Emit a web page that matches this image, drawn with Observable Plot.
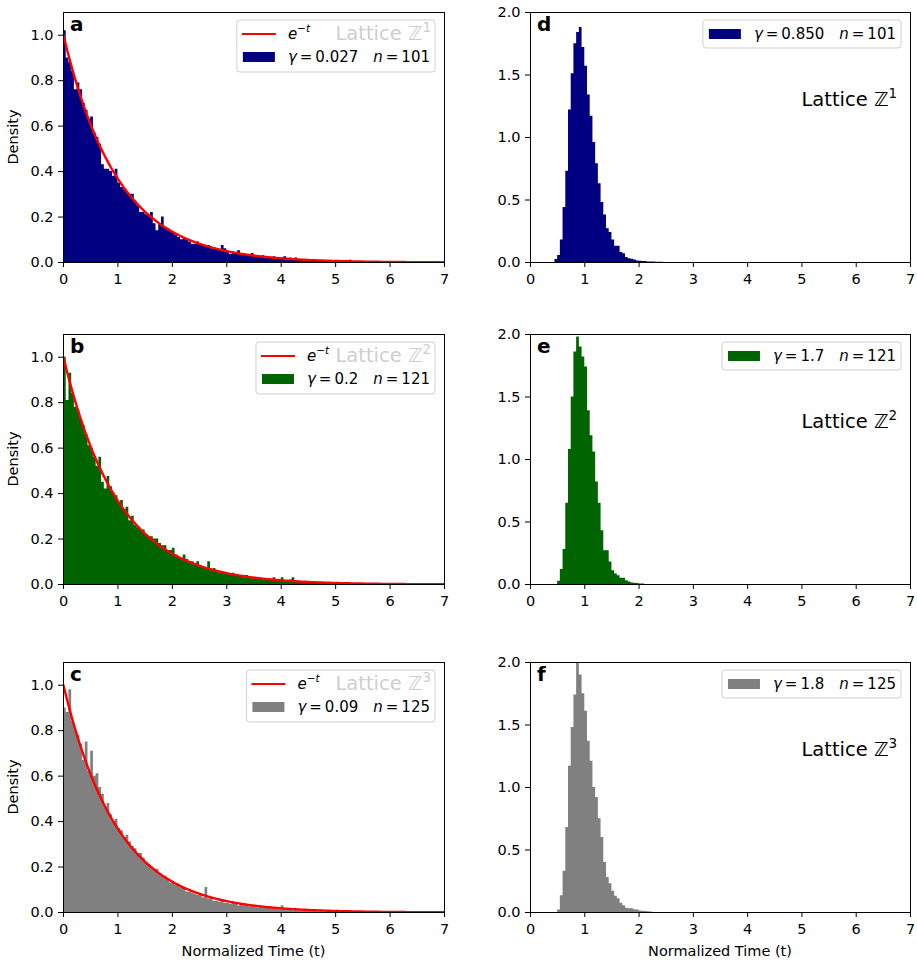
<!DOCTYPE html>
<html><head><meta charset="utf-8">
<script src="https://cdn.jsdelivr.net/npm/d3@7"></script>
<script src="https://cdn.jsdelivr.net/npm/@observablehq/plot@0.6"></script>
<style>
body{margin:0;background:#fff;}
#fig{position:relative;width:917px;height:963px;font-family:"DejaVu Sans",sans-serif;background:#fff;}
#fig svg{position:absolute;overflow:visible;}
</style></head><body><div id="fig"></div>
<script>
// ---------- data ----------
const X_TICKS = [0, 1, 2, 3, 4, 5, 6, 7];
const Y_TICKS_LEFT = [0, 0.2, 0.4, 0.6, 0.8, 1.0];
const Y_TICKS_RIGHT = [0, 0.5, 1.0, 1.5, 2.0];
const BIN_WIDTH = 0.05;
const BIN_START = {a: 0, b: 0, c: 0, d: 0.45, e: 0.5, f: 0.5};
const GAMMA = {a: "0.027", b: "0.2", c: "0.09", d: "0.850", e: "1.7", f: "1.8"};
const NSIZE = {a: 101, b: 121, c: 125, d: 101, e: 121, f: 125};
const LATTICE_DIM = {a: "1", b: "2", c: "3", d: "1", e: "2", f: "3"};
const COLORS = {a: "#000080", b: "#006400", c: "#808080", d: "#000080", e: "#006400", f: "#808080"};

const densityA = [1.02,0.90,0.88,0.84,0.76,0.79,0.76,0.70,0.67,0.63,
 0.64,0.57,0.55,0.52,0.43,0.41,0.41,0.40,0.38,0.41,
 0.35,0.33,0.32,0.31,0.30,0.30,0.27,0.25,0.22,0.22,
 0.21,0.21,0.22,0.17,0.14,0.17,0.20,0.15,0.15,0.14,
 0.13,0.12,0.11,0.10,0.11,0.10,0.09,0.08,0.08,0.09,
 0.08,0.07,0.07,0.075,0.06,0.065,0.06,0.055,0.075,0.06,
 0.045,0.035,0.045,0.04,0.052,0.04,0.04,0.035,0.035,0.04,
 0.03,0.03,0.025,0.03,0.025,0.025,0.02,0.025,0.02,0.02,
 0.02,0.025,0.015,0.02,0.015,0.02,0.01,0.012,0.01,0.008,
 0.01,0.008,0.006,0.01,0.006,0.006,0.005,0.004,0.004,0.003,
 0.004,0.003,0.002,0.003,0.002,0.01,0.002];
const densityB = [1.00,0.81,0.93,0.84,0.78,0.77,0.73,0.70,0.66,0.61,
 0.60,0.56,0.52,0.56,0.45,0.42,0.475,0.43,0.40,0.39,
 0.36,0.37,0.33,0.34,0.28,0.30,0.26,0.25,0.24,0.24,
 0.22,0.21,0.21,0.20,0.20,0.18,0.17,0.17,0.15,0.15,
 0.16,0.13,0.12,0.11,0.13,0.11,0.10,0.10,0.09,0.10,
 0.08,0.07,0.07,0.10,0.06,0.07,0.06,0.05,0.05,0.05,
 0.045,0.04,0.05,0.04,0.04,0.035,0.03,0.04,0.03,0.025,
 0.03,0.03,0.025,0.02,0.025,0.02,0.02,0.03,0.02,0.015,
 0.03,0.015,0.015,0.02,0.03,0.015,0.01,0.012,0.01,0.008,
 0.008,0.006,0.007,0.005,0.005,0.004,0.004,0.003,0.003,0.002,
 0.002,0.002,0.001,0.001];
const densityC = [0.90,0.88,0.98,0.84,0.80,0.78,0.74,0.67,0.75,0.62,
 0.71,0.60,0.61,0.55,0.52,0.46,0.48,0.43,0.40,0.41,
 0.37,0.36,0.33,0.34,0.31,0.29,0.28,0.26,0.26,0.24,
 0.22,0.21,0.20,0.19,0.19,0.17,0.16,0.16,0.15,0.13,
 0.13,0.12,0.12,0.11,0.11,0.09,0.09,0.085,0.08,0.075,
 0.08,0.065,0.11,0.06,0.06,0.05,0.05,0.045,0.05,0.04,
 0.04,0.035,0.04,0.035,0.03,0.035,0.03,0.03,0.025,0.03,
 0.025,0.02,0.025,0.02,0.02,0.018,0.02,0.015,0.015,0.012,
 0.03,0.012,0.01,0.01,0.008,0.01,0.007,0.006,0.006,0.005,
 0.005,0.004,0.004,0.003,0.003,0.002,0.002,0.002,0.001];
const densityD = [0.024,0.056,0.18,0.44,0.73,1.22,1.51,1.75,1.84,1.88,
 1.72,1.57,1.34,1.17,0.96,0.79,0.63,0.48,0.38,0.27,
 0.24,0.18,0.13,0.13,0.08,0.07,0.04,0.03,0.027,0.02,
 0.013,0.01,0.008,0.008,0.005,0.005,0.004,0.003,0.002,0.003];
const densityE = [0.027,0.12,0.28,0.65,1.08,1.50,1.86,1.98,1.90,1.82,
 1.74,1.39,1.19,1.06,0.82,0.65,0.43,0.27,0.27,0.18,
 0.11,0.085,0.07,0.05,0.05,0.03,0.02,0.013,0.01,0.008,
 0.005,0.004];
const densityF = [0.02,0.135,0.33,0.68,1.17,1.48,1.74,2.05,1.90,1.75,
 1.61,1.37,1.21,1.00,0.92,0.75,0.60,0.40,0.28,0.23,
 0.17,0.13,0.11,0.074,0.055,0.035,0.03,0.03,0.022,0.02,
 0.013,0.01,0.008,0.006,0.004];

// theoretical reference curve e^{-t}
const curveT = d3.range(0, 7.0001, 0.02);
const curveData = curveT.map(t => ({t, v: Math.exp(-t)}));

// ---------- layout ----------
const ML = 63, MT = 12, MR = 12, MB = 52, H = 250;
const panels = [
  {id: "a", vals: densityA, left: 63,  top: 12,  w: 381, yMax: 1.1, ticks: Y_TICKS_LEFT,  curve: true,  ylab: true,  xlab: false},
  {id: "b", vals: densityB, left: 63,  top: 334, w: 381, yMax: 1.1, ticks: Y_TICKS_LEFT,  curve: true,  ylab: true,  xlab: false},
  {id: "c", vals: densityC, left: 63,  top: 662, w: 381, yMax: 1.1, ticks: Y_TICKS_LEFT,  curve: true,  ylab: true,  xlab: true},
  {id: "d", vals: densityD, left: 530, top: 12,  w: 380, yMax: 2.0, ticks: Y_TICKS_RIGHT, curve: false, ylab: false, xlab: false},
  {id: "e", vals: densityE, left: 530, top: 334, w: 380, yMax: 2.0, ticks: Y_TICKS_RIGHT, curve: false, ylab: false, xlab: false},
  {id: "f", vals: densityF, left: 530, top: 662, w: 380, yMax: 2.0, ticks: Y_TICKS_RIGHT, curve: false, ylab: false, xlab: true}
];

const fig = document.getElementById("fig");

function render(p) {
  const start = BIN_START[p.id];
  const hist = p.vals.map((v, i) => ({x: start + i * BIN_WIDTH, y: v}));
  hist.push({x: start + p.vals.length * BIN_WIDTH, y: p.vals[p.vals.length - 1]});
  const marks = [
    Plot.areaY(hist, {x: "x", y: "y", curve: "step-after", fill: COLORS[p.id], clip: true})
  ];
  if (p.curve) marks.push(Plot.line(curveData, {x: "t", y: "v", stroke: "#ff0000", strokeWidth: 2.4, clip: true}));
  marks.push(Plot.frame({stroke: "#000", strokeWidth: 1}));
  const svg = Plot.plot({
    width: ML + p.w + MR, height: MT + H + MB,
    marginLeft: ML, marginTop: MT, marginRight: MR, marginBottom: MB,
    style: {fontFamily: "DejaVu Sans", fontSize: "14.5px", color: "#000", background: "transparent", overflow: "visible"},
    x: {domain: [0, 7], ticks: X_TICKS, tickSize: 5, tickPadding: 6, tickFormat: d => String(d), label: null},
    y: {domain: [0, p.yMax], ticks: p.ticks, tickSize: 5, tickPadding: 5, tickFormat: d3.format(".1f"), label: null},
    marks
  });
  svg.style.left = (p.left - ML) + "px";
  svg.style.top = (p.top - MT) + "px";
  fig.appendChild(svg);

  const g = d3.select(svg).append("g").attr("font-family", "DejaVu Sans").attr("fill", "#000").attr("text-anchor", "start");
  const fx0 = ML, fy0 = MT, fx1 = ML + p.w;

  // Lattice annotation (drawn before the legend so the translucent legend box covers it)
  const lat = g.append("text")
    .attr("x", fx1 - 13).attr("y", p.curve ? fy0 + 28 : fy0 + 94)
    .attr("text-anchor", "end").attr("font-size", 19.5);
  lat.append("tspan").text("Lattice \u2124");
  lat.append("tspan").attr("font-size", 13.5).attr("dy", -8).text(LATTICE_DIM[p.id]);

  // Legend
  const box = g.append("rect");
  const nRows = p.curve ? 2 : 1;
  const row1 = fy0 + 22, row2 = fy0 + 45;
  const histRow = p.curve ? row2 : row1;
  const txt = g.append("text").attr("font-size", 15).attr("y", histRow + 5).attr("text-anchor", "start");
  txt.append("tspan").attr("font-style", "italic").text("\u03b3");
  txt.append("tspan").text("\u2009=\u2009" + GAMMA[p.id] + "\u2002\u2002");
  txt.append("tspan").attr("font-style", "italic").text("n");
  txt.append("tspan").text("\u2009=\u2009" + NSIZE[p.id]);
  const tw = txt.node().getComputedTextLength();
  const boxRight = fx1 - 9;
  const boxLeft = boxRight - (51 + tw + 5);
  box.attr("x", boxLeft).attr("y", fy0 + 8).attr("width", boxRight - boxLeft)
     .attr("height", nRows === 2 ? 52 : 28).attr("rx", 3)
     .attr("fill", "rgba(255,255,255,0.8)").attr("stroke", "#d0d0d0").attr("stroke-width", 1);
  txt.attr("x", boxLeft + 51);
  g.append("rect").attr("x", boxLeft + 6).attr("y", histRow - 5).attr("width", 32).attr("height", 10)
    .attr("fill", COLORS[p.id]);
  if (p.curve) {
    g.append("line").attr("x1", boxLeft + 5).attr("x2", boxLeft + 39).attr("y1", row1).attr("y2", row1)
      .attr("stroke", "#ff0000").attr("stroke-width", 2.2);
    const et = g.append("text").attr("x", boxLeft + 51).attr("y", row1 + 5).attr("font-size", 15).attr("text-anchor", "start");
    et.append("tspan").attr("font-style", "italic").text("e");
    et.append("tspan").attr("font-size", 10.5).attr("dy", -7).text("\u2212");
    et.append("tspan").attr("font-size", 10.5).attr("font-style", "italic").text("t");
  }

  // Panel letter
  g.append("text").attr("x", fx0 + 7).attr("y", fy0 + 19).attr("font-weight", "bold").attr("font-size", 20)
    .attr("text-anchor", "start").text(p.id);

  // Axis labels
  if (p.ylab) {
    g.append("text").attr("transform", `translate(13,${fy0 + H / 2}) rotate(-90)`)
      .attr("text-anchor", "middle").attr("dy", "0.35em").attr("font-size", 14.5).text("Density");
  }
  if (p.xlab) {
    g.append("text").attr("x", fx0 + p.w / 2).attr("y", fy0 + H + 44)
      .attr("text-anchor", "middle").attr("font-size", 14.5).text("Normalized Time (t)");
  }
}

panels.forEach(render);
</script>
</body></html>
